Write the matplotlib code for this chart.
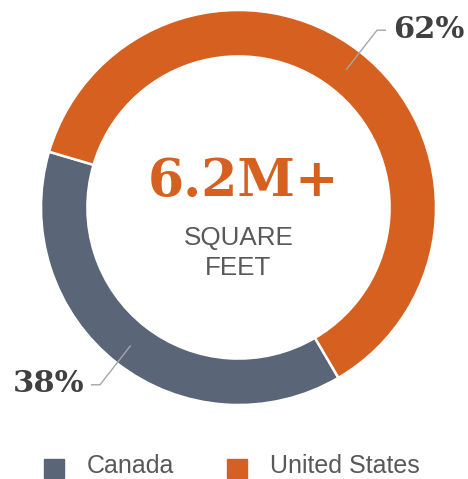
import numpy as np
import matplotlib
matplotlib.use("Agg")
import matplotlib.pyplot as plt
from matplotlib.patches import Rectangle

categories = ["Canada", "United States"]
shares = [38, 62]
share_labels = ["38%", "62%"]
colors = ["#5A6577", "#D6601F"]
center_value = "6.2M+"
center_caption = "SQUARE\nFEET"

W, H = 468, 479
fig = plt.figure(figsize=(W / 100, H / 100), dpi=100)
ax = fig.add_axes([0, 0, 1, 1])

def px(size_px):
    return size_px * 72 / 100

cx, cy_pix = 238.5, 207.5
cy = H - cy_pix
R = 197.5
ring = R * 0.235
start = 163.6

wedges, _ = ax.pie(shares, colors=colors, startangle=start, counterclock=True,
                   radius=R, center=(cx, cy),
                   wedgeprops=dict(width=ring, edgecolor="white", linewidth=1.8))

ax.set_xlim(0, W)
ax.set_ylim(0, H)
ax.set_aspect("equal")
ax.axis("off")

# leader lines + percentage labels
for w, lab in zip(wedges, share_labels):
    mid = np.deg2rad((w.theta1 + w.theta2) / 2)
    p0 = (cx + 175 * np.cos(mid), cy + 175 * np.sin(mid))
    p1 = (cx + 225 * np.cos(mid), cy + 225 * np.sin(mid))
    sgn = 1 if np.cos(mid) > 0 else -1
    p2 = (p1[0] + sgn * 9, p1[1])
    ax.plot([p0[0], p1[0], p2[0]], [p0[1], p1[1], p2[1]], color="#A6A6A6", lw=1.0,
            solid_capstyle="butt")
    ax.text(p2[0] + sgn * 7, p2[1] + 1, lab, ha="left" if sgn > 0 else "right",
            va="center", fontsize=px(30.5), fontweight="bold", family="DejaVu Serif",
            color="#404040")

# center text
ax.text(cx + 5, H - 181, center_value, ha="center", va="center", fontsize=px(52),
        fontweight="bold", family="DejaVu Serif", color="#D6601F")
ax.text(cx, H - 253, center_caption, ha="center", va="center", fontsize=px(26),
        family="Liberation Sans", color="#595959", linespacing=1.32)

# legend
leg_x = [44, 227]
for x0, cat, col in zip(leg_x, categories, colors):
    ax.add_patch(Rectangle((x0, H - 478), 20, 19, color=col, clip_on=False))
    ax.text(x0 + 43, H - 473, cat, ha="left", va="baseline", fontsize=px(25),
            family="Liberation Sans", color="#595959")

fig.savefig("out.png", dpi=100)
